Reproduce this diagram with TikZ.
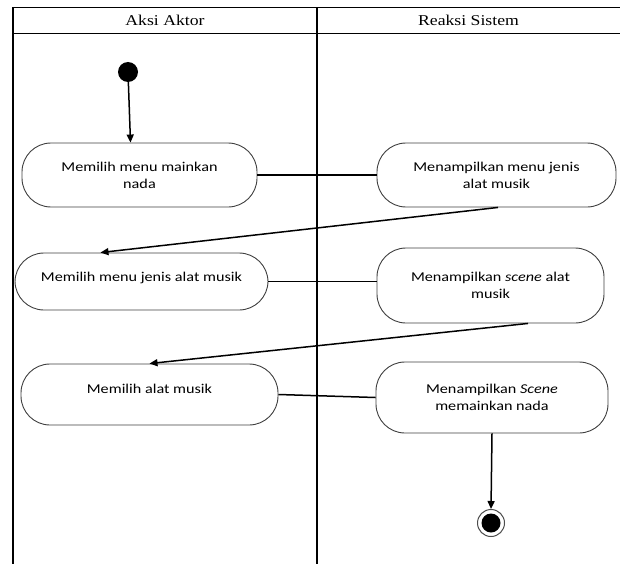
\documentclass[tikz,border=0pt]{standalone}
\usepackage{fontspec}
\setmainfont{Liberation Serif}[FakeStretch=1.18]
\newfontfamily\nodefont{Carlito}[FakeStretch=1.2]
\usetikzlibrary{arrows.meta,calc}
\tikzset{
  act/.style={draw=black!75, line width=0.9pt, fill=white, rounded corners=29pt,
    align=center, inner sep=0pt, font=\nodefont\fontsize{13.5}{17}\selectfont},
  flow/.style={draw=black, line width=1.5pt},
  arr/.style={flow, -{Triangle[length=8pt,width=7pt]}},
  lane/.style={draw=black, line width=1.2pt},
  head/.style={font=\fontsize{15}{18}\selectfont, inner sep=0pt}
}
\begin{document}
\begin{tikzpicture}[x=1pt,y=-1pt]
\useasboundingbox (0,0) rectangle (620,564);
% lanes
\draw[lane] (620,7.5) -- (13,7.5) -- (13,564);
\draw[lane] (13,33.5) -- (620,33.5);
\draw[lane] (317,7.5) -- (317,564);
\node[head] (h1) at (165,20) {Aksi Aktor};
\node[head] (h2) at (468.5,20) {Reaksi Sistem};
% start / end
\node[circle, fill=black, minimum size=20pt, inner sep=0pt] (start) at (128,72) {};
\node[circle, draw=black!70, line width=1pt, minimum size=27pt, inner sep=0pt] (endo) at (491,523) {};
\node[circle, fill=black, minimum size=19pt, inner sep=0pt] (endi) at (491,523) {};
% activities
\node[act, minimum width=235pt, minimum height=64pt] (A1) at (139.5,175) {Memilih menu mainkan\\nada};
\node[act, minimum width=239pt, minimum height=64pt] (R1) at (496.5,175) {Menampilkan menu jenis\\alat musik};
\node[act, minimum width=253pt, minimum height=57pt] (A2) at (141.5,281.5) {\raisebox{10pt}{Memilih menu jenis alat musik}};
\node[act, minimum width=227pt, minimum height=75pt] (R2) at (490.5,285.5) {Menampilkan \textit{scene} alat\\musik};
\node[act, minimum width=257pt, minimum height=61pt] (A3) at (149.5,394.5) {\raisebox{12pt}{Memilih alat musik}};
\node[act, minimum width=232pt, minimum height=71pt] (R3) at (492,397.5) {Menampilkan \textit{Scene}\\memainkan nada};
% connectors
\draw[arr] (start) -- ($(A1.north)+(-9,0)$);
\draw[flow] (A1.east) -- (R1.west);
\draw[arr] ($(R1.south)+(1.5,0)$) -- ($(A2.north)+(-41,0)$);
\draw[flow] (A2.east) -- (A2.east -| R2.west);
\draw[arr] ($(R2.south)+(37.5,0)$) -- (A3.north);
\draw[flow] (A3.east) -- (R3.west);
\draw[arr] (R3.south) -- (endo.north);
\end{tikzpicture}
\end{document}
